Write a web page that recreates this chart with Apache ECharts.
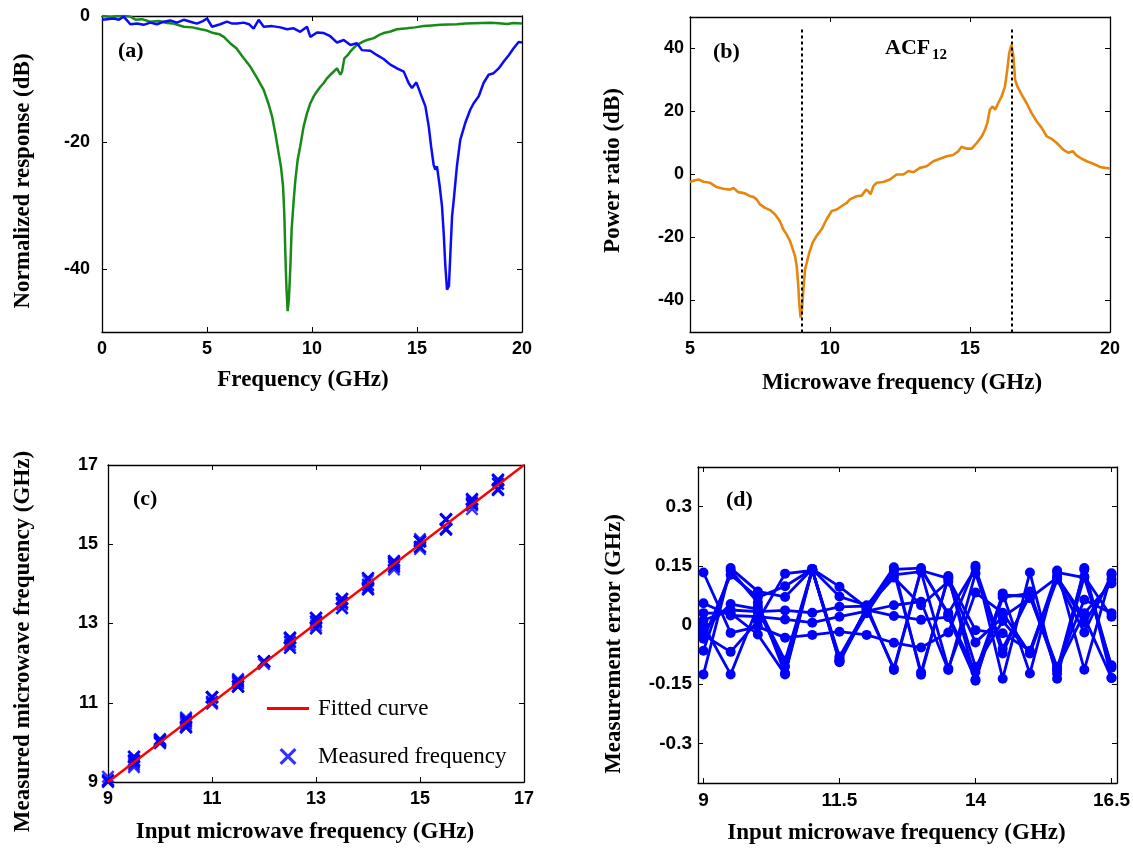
<!DOCTYPE html>
<html><head><meta charset="utf-8">
<script src="https://cdn.jsdelivr.net/npm/echarts@6/dist/echarts.min.js"></script>
<style>html,body{margin:0;padding:0;background:#fff}#c{width:1133px;height:856px}</style>
</head><body><div id="c"></div>
<script>
// ---------- (a) filter responses ----------
const aGreenF = [0,0.4,0.8,1.1,1.35,1.6,1.9,2.3,2.7,3.1,3.4,3.9,4.3,4.7,5.0,5.3,5.6,5.8,6.1,6.4,6.75,7.06,7.38,7.7,7.94,8.1,8.25,8.41,8.52,8.62,8.68,8.73,8.78,8.84,8.9,8.97,9.03,9.13,9.21,9.32,9.44,9.6,9.76,9.92,10.1,10.24,10.4,10.56,10.7,10.87,11.0,11.19,11.27,11.35,11.43,11.54,11.7,11.83,12.0,12.14,12.4,12.62,12.94,13.2,13.41,13.7,14.05,14.3,14.52,14.9,15.32,15.7,16.11,16.5,16.9,17.3,17.7,18.1,18.49,18.9,19.29,19.6,20.0];
const aGreenDb = [0,-0.1,0,0,-0.1,-0.6,-0.5,-0.9,-0.8,-1.1,-1.2,-1.7,-1.8,-2.1,-2.3,-2.7,-2.9,-3.3,-4.3,-5.1,-6.7,-8.0,-9.8,-11.7,-14.0,-15.9,-18.5,-21.7,-23.8,-26.9,-31.2,-37.5,-42.7,-46.7,-44.8,-39.6,-33.8,-29.1,-25.9,-22.7,-20.6,-17.5,-15.4,-13.8,-12.6,-11.9,-11.2,-10.6,-9.9,-9.3,-8.9,-8.3,-8.0,-9.3,-8.8,-6.7,-6.2,-5.6,-5.0,-4.6,-4.1,-3.8,-3.5,-3.0,-2.7,-2.5,-2.1,-2.0,-1.95,-1.8,-1.6,-1.5,-1.4,-1.35,-1.3,-1.2,-1.15,-1.1,-1.05,-1.15,-1.25,-1.1,-1.2];
const aBlueF = [0,0.24,0.56,0.8,1.03,1.19,1.35,1.67,1.98,2.3,2.62,2.94,3.25,3.57,3.89,4.21,4.52,4.8,5.0,5.24,5.63,5.95,6.2,6.43,6.75,7.0,7.22,7.46,7.7,8.1,8.49,8.81,9.13,9.44,9.76,9.92,10.24,10.56,10.87,11.19,11.51,11.83,12.14,12.38,12.78,13.1,13.41,13.73,14.05,14.37,14.6,14.76,14.97,15.16,15.4,15.56,15.67,15.79,15.87,15.95,16.08,16.19,16.27,16.35,16.43,16.52,16.59,16.67,16.75,16.9,17.06,17.3,17.54,17.7,17.94,18.17,18.41,18.65,18.89,19.13,19.37,19.6,19.84,20.0];
const aBlueDb = [-0.6,-0.5,-0.4,-0.6,-0.1,-0.7,-1.3,-1.2,-1.4,-1.05,-1.3,-0.9,-0.7,-1.05,-0.6,-0.9,-1.2,-0.8,-0.4,-1.7,-1.3,-0.9,-1.2,-1.2,-1.05,-1.3,-2.0,-0.6,-1.7,-1.6,-1.8,-2.1,-1.95,-2.5,-1.7,-3.3,-2.6,-2.7,-3.2,-4.2,-3.8,-4.6,-4.3,-5.4,-5.5,-6.2,-6.8,-7.7,-8.3,-8.8,-10.6,-11.4,-10.5,-12.2,-14.3,-17.5,-20.6,-23.5,-24.3,-23.8,-26.9,-30.1,-34.3,-39.6,-43.3,-42.7,-37.5,-31.7,-29.1,-23.8,-19.6,-16.9,-14.8,-13.8,-12.7,-10.6,-9.3,-9.05,-8.3,-7.2,-6.2,-5.1,-4.1,-4.2];
const aYTicks = [-40, -20, 0];

// ---------- (b) ACF12 power ratio ----------
const bF = [5.0,5.18,5.30,5.48,5.71,5.95,6.19,6.43,6.55,6.73,6.96,7.14,7.26,7.38,7.5,7.68,7.86,8.04,8.21,8.33,8.45,8.57,8.67,8.75,8.81,8.86,8.90,8.95,9.0,9.05,9.11,9.17,9.26,9.38,9.52,9.70,9.88,10.06,10.24,10.42,10.6,10.71,10.95,11.13,11.29,11.37,11.45,11.55,11.67,11.90,12.14,12.38,12.62,12.80,12.98,13.21,13.45,13.69,13.93,14.17,14.40,14.58,14.70,14.88,15.06,15.24,15.42,15.54,15.62,15.71,15.81,15.90,16.01,16.13,16.25,16.33,16.40,16.48,16.55,16.61,16.69,16.85,17.02,17.20,17.38,17.56,17.74,17.92,18.10,18.33,18.51,18.67,18.81,18.99,19.17,19.40,19.64,19.82,20.0];
const bDb = [-2.4,-1.8,-1.6,-2.3,-2.6,-4.0,-4.5,-4.8,-4.3,-5.6,-6.0,-6.9,-7.1,-7.9,-9.5,-10.6,-11.3,-12.7,-14.8,-17.4,-19.0,-21.1,-23.7,-25.9,-29.0,-34.3,-40.6,-45.4,-42.7,-36.4,-30.1,-28.0,-24.8,-21.6,-19.5,-17.4,-14.2,-11.6,-11.1,-10.0,-9.0,-7.9,-6.9,-6.7,-4.8,-5.3,-6.3,-3.7,-2.6,-2.4,-1.6,0,0,1.1,0.7,2.1,2.6,4.2,5.0,5.8,6.2,7.4,8.8,8.2,8.2,10.0,12.1,14.3,16.4,20.6,21.6,20.6,22.7,24.8,28.0,33.2,38.5,41.2,37.5,30.1,28.0,25.3,22.7,19.5,16.9,14.8,12.1,11.3,10.0,7.9,6.9,7.4,6.0,5.0,4.2,3.4,2.4,2.1,1.9];
const bMarkFreqs = [9, 16.5];
const bMarkRange = [46, -50];
const bYTicks = [-40, -20, 0, 20, 40];

// ---------- (c)/(d) frequency measurement ----------
const dFreq = [9,9.5,10,10.5,11,11.5,12,12.5,13,13.5,14,14.5,15,15.5,16,16.5];
const err1 = [0.133,-0.02,-0.004,-0.032,-0.025,-0.017,-0.025,-0.045,-0.057,-0.019,0.15,-0.136,0.133,-0.136,0.144,-0.134];
const err2 = [-0.125,0.144,0.085,0.071,0.142,0.097,0.044,0.146,-0.126,0.124,-0.141,0.08,-0.123,0.138,-0.113,0.131];
const err3 = [0.055,0.024,0.021,0.014,0.006,0.021,0.035,0.05,0.059,-0.114,0.131,-0.072,0.085,-0.123,0.123,0.021];
const err4 = [-0.065,0.138,0.057,-0.122,0.142,-0.089,0.042,0.141,0.144,0.025,-0.119,0.076,0.072,-0.114,0.14,-0.108];
const err5 = [0.012,0.038,0.034,0.037,0.031,0.046,0.048,-0.114,0.138,0.118,-0.013,-0.021,-0.065,0.123,0.006,0.115];
const err6 = [-0.035,0.127,0.07,0.098,0.141,0.072,0.05,0.127,0.135,-0.11,0.082,0.031,-0.072,0.115,-0.019,0.127];
const err7 = [0.0,-0.125,0.047,-0.09,0.14,-0.094,0.038,0.023,0.013,0.02,-0.138,0.07,0.08,-0.106,0.064,0.03];
const err8 = [-0.013,0.053,0.04,-0.105,0.139,-0.085,0.03,0.135,-0.12,0.12,-0.106,0.01,-0.07,0.133,0.12,-0.102];
const err9 = [-0.025,-0.068,0.01,0.13,0.138,-0.08,0.04,-0.11,0.14,0.03,0.144,-0.06,0.075,-0.11,0.03,0.105];
const err10 = [0.03,0.03,-0.024,-0.125,0.14,-0.092,0.045,0.12,0.05,0.11,-0.044,0.02,0.068,0.12,0.02,-0.134];
const errRuns = [err1,err2,err3,err4,err5,err6,err7,err8,err9,err10];
const fitX = [9, 17];
const fitY = [9, 17];
const dXTicks = [9, 11.5, 14, 16.5];
const dYTicks = [-0.3, -0.15, 0, 0.15, 0.3];

// ---------- helpers ----------
const zip = (xs, ys) => xs.map((x, i) => [x, ys[i]]);
const TICKF = 'Liberation Sans', TITLEF = 'Liberation Serif';
const XMARK = 'path://M0,1.3L1.3,0L5,3.7L8.7,0L10,1.3L6.3,5L10,8.7L8.7,10L5,6.3L1.3,10L0,8.7L3.7,5Z';

const grids = [
  {left:102, top:16, width:420, height:316},
  {left:690, top:17, width:420, height:315},
  {left:108, top:465, width:416, height:317},
  {left:698, top:467, width:420, height:316}
];

function axisBase(o) {
  const tickCfg = {show:true, inside:true, length:5, lineStyle:{color:'#000', width:1}};
  const labCfg = {show:o.labels !== false, color:'#000', fontFamily:TICKF, fontWeight:'bold', fontSize:o.fs || 18, margin:o.margin || 8, showMinLabel:true, showMaxLabel:true};
  if (o.custom) { tickCfg.customValues = o.custom; labCfg.customValues = o.custom; }
  const a = {
    type:'value', gridIndex:o.g, position:o.pos, min:o.min, max:o.max,
    axisLine:{show:true, onZero:false, lineStyle:{color:'#000', width:1.3}},
    axisTick:tickCfg, axisLabel:labCfg, splitLine:{show:false}
  };
  if (o.interval) a.interval = o.interval;
  if (o.name) {
    a.name = o.name; a.nameLocation = 'middle'; a.nameGap = o.gap;
    a.nameTextStyle = {fontFamily:TITLEF, fontWeight:'bold', fontSize:23, color:'#000', padding:o.pad || 0};
  }
  return a;
}

const xDefs = [
  {g:0, min:0, max:20, interval:5, name:'Frequency (GHz)', gap:37, pad:[0,18,0,0]},
  {g:1, min:5, max:20, interval:5, name:'Microwave frequency (GHz)', gap:40, pad:[0,0,0,4]},
  {g:2, min:9, max:17, interval:2, name:'Input microwave frequency (GHz)', gap:39, pad:[0,22,0,0]},
  {g:3, min:8.9, max:16.6, custom:dXTicks, name:'Input microwave frequency (GHz)', gap:39, fs:19, pad:[0,22,0,0]}
];
const yDefs = [
  {g:0, min:-50, max:0, custom:aYTicks, name:'Normalized response (dB)', gap:67, margin:12, pad:[0,14,0,0]},
  {g:1, min:-50, max:50, custom:bYTicks, name:'Power ratio (dB)', gap:65, margin:6, pad:[0,0,0,8]},
  {g:2, min:9, max:17, interval:2, name:'Measured microwave frequency (GHz)', gap:73, margin:10, pad:[0,36,0,0]},
  {g:3, min:-0.4, max:0.4, custom:dYTicks, name:'Measurement error (GHz)', gap:72, margin:6, fs:19, pad:[0,38,0,0]}
];
const xAxis = xDefs.map(d => axisBase(Object.assign({pos:'bottom'}, d)))
  .concat(xDefs.map(d => axisBase({g:d.g, min:d.min, max:d.max, interval:d.interval, custom:d.custom, pos:'top', labels:false})));
const yAxis = yDefs.map(d => axisBase(Object.assign({pos:'left'}, d)))
  .concat(yDefs.map(d => axisBase({g:d.g, min:d.min, max:d.max, interval:d.interval, custom:d.custom, pos:'right', labels:false})));

const series = [];
// (a)
series.push({type:'line', name:'green', xAxisIndex:0, yAxisIndex:0, data:zip(aGreenF, aGreenDb), showSymbol:false, symbol:'none',
  lineStyle:{color:'#178a17', width:2.5}, z:2});
series.push({type:'line', name:'blue', xAxisIndex:0, yAxisIndex:0, data:zip(aBlueF, aBlueDb), showSymbol:false, symbol:'none',
  lineStyle:{color:'#0a0aff', width:2.5}, z:3});
// (b)
series.push({type:'line', name:'ACF', xAxisIndex:1, yAxisIndex:1, data:zip(bF, bDb), showSymbol:false, symbol:'none',
  lineStyle:{color:'#e5870f', width:2.6}, z:3});
bMarkFreqs.forEach(f => series.push({type:'line', xAxisIndex:1, yAxisIndex:1, data:bMarkRange.map(v => [f, v]), symbol:'none',
  lineStyle:{color:'#000', width:2, type:[3,3]}, z:4}));
// (c)
const measured = [];
errRuns.forEach(run => run.forEach((e, i) => measured.push([dFreq[i], dFreq[i] + e])));
series.push({type:'scatter', name:'Measured frequency', xAxisIndex:2, yAxisIndex:2, data:measured, symbol:XMARK, symbolSize:13,
  itemStyle:{color:'#0000ff'}, z:2});
series.push({type:'line', name:'Fitted curve', xAxisIndex:2, yAxisIndex:2, data:zip(fitX, fitY), symbol:'none',
  lineStyle:{color:'#ff0000', width:2.4}, itemStyle:{color:'#ff0000'}, z:3});
// (d)
errRuns.forEach((run, k) => series.push({type:'line', name:'run' + (k + 1), xAxisIndex:3, yAxisIndex:3, data:zip(dFreq, run),
  symbol:'circle', symbolSize:10, showSymbol:true, lineStyle:{color:'#0000ff', width:2.8}, itemStyle:{color:'#0000ff'}, z:3}));

const txt = (x, y, s, size) => ({type:'text', x:x, y:y, style:{text:s, font:'bold ' + size + 'px "Liberation Serif"', fill:'#000', textVerticalAlign:'middle', textAlign:'left'}});

const option = {
  animation:false,
  backgroundColor:'#fff',
  grid:grids,
  xAxis:xAxis,
  yAxis:yAxis,
  legend:{
    left:262, top:692, orient:'vertical', itemWidth:42, itemHeight:17, itemGap:25,
    textStyle:{fontFamily:TITLEF, fontSize:23, color:'#000', padding:[0,0,0,4]},
    data:[{name:'Fitted curve', icon:'path://M0,0L40,0L40,3L0,3Z'}, {name:'Measured frequency', icon:XMARK}],
    selectedMode:false
  },
  graphic:[
    txt(118, 51, '(a)', 22),
    txt(713, 52, '(b)', 22),
    txt(133, 499, '(c)', 22),
    txt(726, 500, '(d)', 22),
    txt(885, 48, 'ACF', 22),
    txt(932, 55, '12', 15)
  ],
  series:series
};
echarts.init(document.getElementById('c'), null, {renderer:'canvas'}).setOption(option);
</script></body></html>
